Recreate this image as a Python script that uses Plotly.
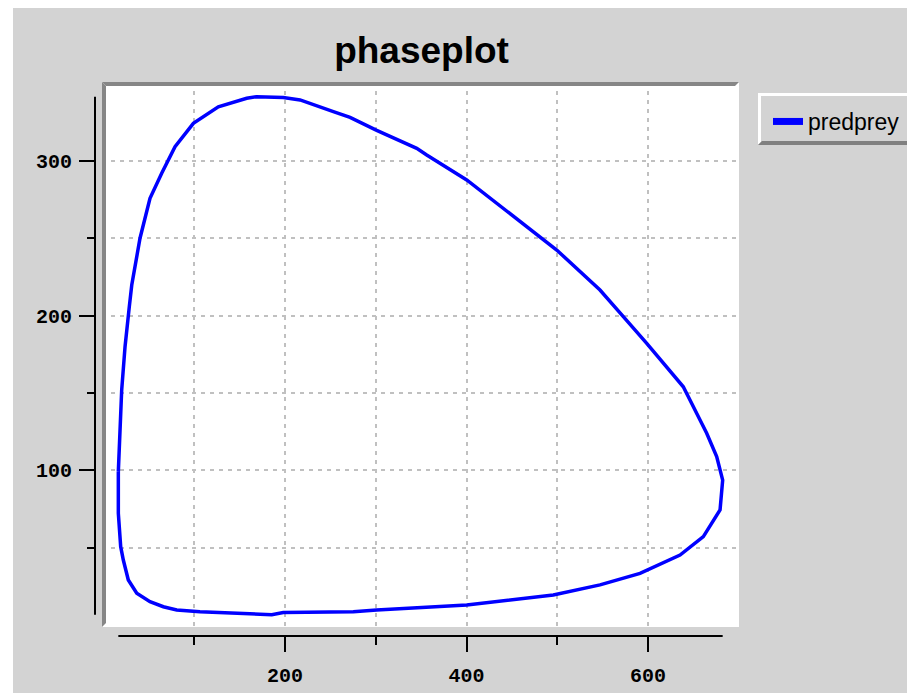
import plotly.graph_objects as go

# ---- data ----
prey = [16.2, 16.2, 18.8, 21.7, 27.2, 36.5, 51.1, 65.8, 80.6, 106.2, 185.3, 198.0,
        275.2, 301.0, 400.2, 495.6, 547.1, 591.2, 635.3, 661.0, 679.4, 682.3,
        675.7, 664.7, 638.9, 620.6, 598.6, 572.8, 547.1, 499.4, 466.3, 429.5,
        400.2, 356.1, 345.1, 301.0, 271.6, 253.2, 216.5, 198.0, 168.7, 157.7,
        126.4, 98.9, 78.7, 64.0, 51.1, 40.1, 31.0, 28.3, 23.6, 19.9, 18.8, 17.3, 16.2]
predators = [99.1, 72.2, 50.6, 42.0, 29.1, 20.5, 15.1, 11.8, 9.7, 8.6, 6.6, 8.0,
             8.6, 9.7, 12.9, 19.4, 25.9, 33.4, 45.2, 57.1, 74.3, 93.7,
             108.8, 123.9, 154.0, 167.0, 182.1, 199.3, 216.5, 242.4, 257.5, 274.7,
             287.7, 303.8, 308.1, 319.7, 328.1, 331.8, 339.4, 340.9, 341.5, 340.5,
             335.0, 324.3, 309.2, 292.0, 275.8, 250.0, 219.8, 205.8, 179.9, 151.9, 136.8, 115.3, 99.1]
series_name = "predprey"
chart_title = "phaseplot"
x_tick_vals = [200, 400, 600]
x_minor_vals = [100, 300, 500]
y_tick_vals = [100, 200, 300]
y_minor_vals = [50, 150, 250]
x_range = [-1.8, 700.3]
y_range = [-1.3, 351.0]

# ---- layout geometry (screen pixels; page body has an 8px margin) ----
OFF = 8
FW, FH = 915, 693
L, R, T, B = 95, 739, 82, 636
W, H = R - L, B - T


def px(x):
    return (x - L) / W


def py(y):
    return (B - y) / H


def cx(x):
    return (x - OFF) / FW


def cy(y):
    return 1 - (y - OFF) / FH


BG = "#d3d3d3"
FRAME = "#868686"
GRID = "#c0c0c0"

fig = go.Figure()
fig.add_trace(go.Scatter(x=prey, y=predators, mode="lines", name=series_name,
                         line=dict(color="#0000ff", width=3.5), showlegend=False))
fig.add_trace(go.Scatter(x=[None], y=[None], mode="lines", name=series_name,
                         line=dict(color="#0000ff", width=7), showlegend=True))

shapes = []
# white strip at the left edge of the page
shapes.append(dict(type="rect", xref="paper", yref="paper", x0=px(OFF), x1=px(13), y0=py(OFF), y1=py(FH + OFF),
                   fillcolor="white", line=dict(width=0), layer="below"))


def poly(pts):
    return "M " + " L ".join(f"{px(a):.5f},{py(b):.5f}" for a, b in pts) + " Z"


# bevelled frame on top and left of plot area
shapes.append(dict(type="path", xref="paper", yref="paper",
                   path=poly([(102, 82), (739, 82), (735, 86), (106, 86)]),
                   fillcolor=FRAME, line=dict(width=0), layer="above"))
shapes.append(dict(type="path", xref="paper", yref="paper",
                   path=poly([(102, 82), (106, 86), (106, 623), (102, 627)]),
                   fillcolor=FRAME, line=dict(width=0), layer="above"))

# axis lines spanning only the data range
shapes.append(dict(type="line", xref="x", yref="paper", x0=min(prey), x1=max(prey), y0=0, y1=0,
                   line=dict(color="black", width=2)))
shapes.append(dict(type="line", xref="paper", yref="y", x0=0, x1=0, y0=min(predators), y1=max(predators),
                   line=dict(color="black", width=2)))

# legend box bevel
lx0, lx1, ly0, ly1 = 758, 913, 93, 145
shapes.append(dict(type="path", xref="paper", yref="paper",
                   path=poly([(lx0, ly0), (lx1, ly0), (lx1 - 3, ly0 + 3), (lx0 + 3, ly0 + 3),
                              (lx0 + 3, ly1 - 3), (lx0, ly1)]),
                   fillcolor="white", line=dict(width=0)))
shapes.append(dict(type="path", xref="paper", yref="paper",
                   path=poly([(lx1, ly0), (lx1, ly1), (lx0, ly1), (lx0 + 4, ly1 - 4),
                              (lx1 - 4, ly1 - 4), (lx1 - 4, ly0 + 4)]),
                   fillcolor="#808080", line=dict(width=0)))

tickfont = dict(family="Liberation Mono", size=20, color="black", weight="bold")

fig.update_layout(
    width=FW, height=FH,
    margin=dict(l=L - OFF, r=FW - (R - OFF), t=T - OFF, b=FH - (B - OFF), pad=0),
    paper_bgcolor=BG,
    plot_bgcolor="white",
    title=dict(text=chart_title, xref="container", yref="container",
               x=cx(421.5), y=cy(50), xanchor="center", yanchor="middle",
               font=dict(family="Liberation Sans", size=37, color="black", weight="bold")),
    showlegend=True,
    legend=dict(xref="container", yref="container", x=cx(768), y=cy(100),
                xanchor="left", yanchor="top", bgcolor="rgba(0,0,0,0)", borderwidth=0,
                itemwidth=30,
                font=dict(family="Liberation Sans", size=23, color="black")),
    xaxis=dict(domain=[px(102), 1], range=x_range, anchor="free", position=0,
               tickmode="array", tickvals=x_tick_vals,
               ticks="outside", ticklen=15, tickwidth=2, tickcolor="black",
               showgrid=True, gridcolor=GRID, gridwidth=2, griddash="4px,5px",
               minor=dict(tickmode="array", tickvals=x_minor_vals, ticks="outside", ticklen=8,
                          tickwidth=2, tickcolor="black", showgrid=True, gridcolor=GRID,
                          gridwidth=2, griddash="4px,5px"),
               showline=False, zeroline=False, tickfont=tickfont, ticklabelstandoff=6),
    yaxis=dict(domain=[py(627), 1], range=y_range, anchor="free", position=0,
               tickmode="array", tickvals=y_tick_vals,
               ticks="outside", ticklen=16, tickwidth=2, tickcolor="black",
               showgrid=True, gridcolor=GRID, gridwidth=2, griddash="4px,5px",
               minor=dict(tickmode="array", tickvals=y_minor_vals, ticks="outside", ticklen=8,
                          tickwidth=2, tickcolor="black", showgrid=True, gridcolor=GRID,
                          gridwidth=2, griddash="4px,5px"),
               showline=False, zeroline=False, tickfont=tickfont, ticklabelstandoff=3),
    shapes=shapes,
)

fig.write_html("out.html")
